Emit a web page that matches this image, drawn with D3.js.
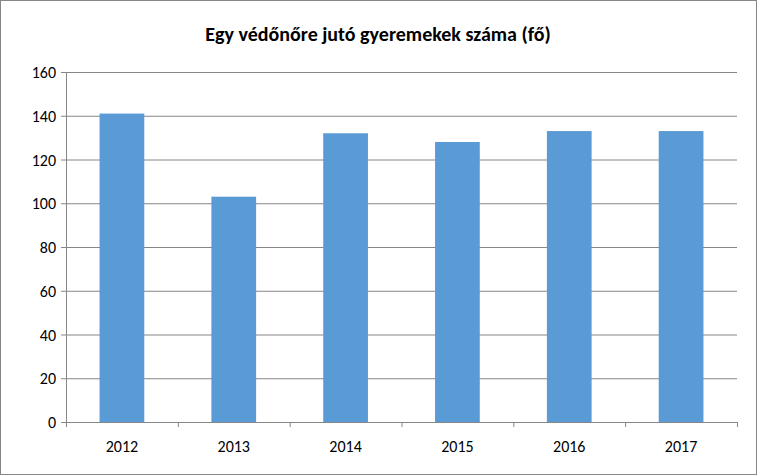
<!DOCTYPE html>
<html><head><meta charset="utf-8">
<script src="https://cdn.jsdelivr.net/npm/d3@7"></script>
<style>body{margin:0;background:#fff}</style></head>
<body><svg id="c" width="757" height="475"></svg>
<script>
const categories = ["2012","2013","2014","2015","2016","2017"];
const values = [141,103,132,128,133,133];
const yTicks = [0,20,40,60,80,100,120,140,160];
const title = "Egy védőnőre jutó gyeremekek száma (fő)";

const svg = d3.select("#c");
svg.append("rect").attr("x",0.5).attr("y",0.5).attr("width",756).attr("height",474)
  .attr("fill","#fff").attr("stroke","#868686");
const L=66,R=737,T=72,B=422;
const x=d3.scaleBand().domain(categories).range([L,R]).paddingInner(0.6).paddingOuter(0.3);
const y=d3.scaleLinear().domain([0,160]).range([B,T]);
svg.append("g").selectAll("line").data(yTicks).join("line")
  .attr("x1",L).attr("x2",R).attr("y1",d=>y(d)+0.5).attr("y2",d=>y(d)+0.5)
  .attr("stroke","#868686").attr("stroke-width",1);
svg.append("line").attr("x1",L+0.5).attr("x2",L+0.5).attr("y1",T).attr("y2",B).attr("stroke","#868686");
svg.append("g").selectAll("line").data(yTicks).join("line")
  .attr("x1",L-5).attr("x2",L).attr("y1",d=>y(d)+0.5).attr("y2",d=>y(d)+0.5).attr("stroke","#868686");
const xb=d3.range(categories.length+1).map(i=>L+i*(R-L)/categories.length);
svg.append("g").selectAll("line").data(xb).join("line")
  .attr("x1",d=>d+0.5).attr("x2",d=>d+0.5).attr("y1",B).attr("y2",B+5).attr("stroke","#868686");
svg.append("g").selectAll("rect").data(values).join("rect")
  .attr("x",(d,i)=>x(categories[i])).attr("width",x.bandwidth())
  .attr("y",d=>y(d)).attr("height",d=>B-y(d)).attr("fill","#5b9bd5");
svg.append("g").selectAll("text").data(yTicks).join("text")
  .attr("x",L-10).attr("y",d=>y(d)+6).attr("text-anchor","end")
  .attr("font-family","Calibri, Carlito, 'Liberation Sans', sans-serif").attr("font-size",16).text(d=>d);
svg.append("g").selectAll("text").data(categories).join("text")
  .attr("x",d=>x(d)+x.bandwidth()/2).attr("y",B+30).attr("text-anchor","middle")
  .attr("font-family","Calibri, Carlito, 'Liberation Sans', sans-serif").attr("font-size",16).text(d=>d);
svg.append("text").attr("x",378).attr("y",41).attr("text-anchor","middle")
  .attr("font-family","Calibri, Carlito, 'Open Sans', sans-serif").attr("font-weight","bold")
  .attr("font-size",20).text(title);
</script></body></html>
